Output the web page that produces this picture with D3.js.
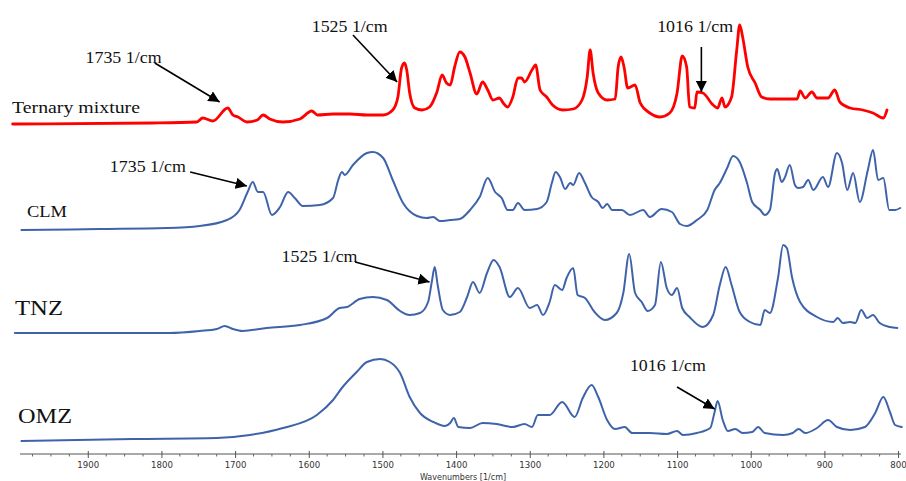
<!DOCTYPE html>
<html>
<head>
<meta charset="utf-8">
<script src="https://cdn.jsdelivr.net/npm/d3@7"></script>
<style>
  html, body { margin: 0; padding: 0; background: #fff; }
  svg { display: block; }
</style>
</head>
<body>
<svg id="chart" width="906" height="481"></svg>
<script>
// ---------------- DATA ----------------
const tickLabels = [1900, 1800, 1700, 1600, 1500, 1400, 1300, 1200, 1100, 1000, 900, 800];
const axisTitle = "Wavenumbers [1/cm]";
const seriesNames = ["Ternary mixture", "CLM", "TNZ", "OMZ"];
const seriesOffsets = [3.17, 2.11, 1.08, 0];

const ternaryWn = [2002,1812,1752,1744,1730,1710,1703,1696,1684,1670,1662,1653,1635,1612,1596,1588,1567,1544,1521,1499,1486,1479,1474,1470,1467,1463,1456,1446,1436,1426,1419,1413,1408,1402,1395,1388,1381,1372,1364,1357,1350,1341,1336,1330,1323,1316,1311,1307,1297,1292,1286,1277,1269,1255,1241,1229,1222,1218,1214,1207,1195,1184,1180,1176,1172,1167,1157,1150,1137,1123,1110,1100,1093,1087,1083,1076,1073,1065,1051,1045,1039,1035,1026,1019,1015,1011,1004,994,985,974,956,937,933,926,917,910,895,886,879,865,848,834,820,815];
const ternaryAbs = [0.00,0.01,0.02,0.06,0.03,0.16,0.09,0.07,0.02,0.04,0.09,0.05,0.02,0.05,0.13,0.09,0.10,0.10,0.09,0.09,0.14,0.27,0.56,0.61,0.54,0.31,0.16,0.14,0.17,0.32,0.49,0.41,0.39,0.57,0.72,0.67,0.51,0.30,0.42,0.34,0.24,0.26,0.21,0.17,0.27,0.46,0.46,0.42,0.54,0.59,0.34,0.27,0.19,0.14,0.15,0.24,0.47,0.74,0.51,0.31,0.24,0.25,0.57,0.67,0.57,0.36,0.39,0.21,0.11,0.07,0.11,0.31,0.68,0.57,0.17,0.16,0.32,0.31,0.19,0.16,0.26,0.17,0.27,0.74,0.99,0.87,0.57,0.41,0.27,0.25,0.25,0.25,0.33,0.26,0.32,0.26,0.26,0.34,0.22,0.16,0.14,0.11,0.06,0.14];

const clmWn = [1990,1884,1793,1748,1711,1694,1683,1676,1669,1662,1650,1639,1628,1619,1608,1585,1567,1560,1555,1551,1540,1521,1513,1499,1486,1472,1453,1440,1431,1422,1408,1395,1381,1368,1357,1347,1338,1330,1323,1316,1307,1290,1277,1270,1265,1259,1252,1245,1241,1233,1225,1216,1207,1201,1195,1188,1175,1164,1146,1137,1121,1107,1096,1087,1073,1059,1049,1042,1032,1024,1015,1005,998,987,981,974,967,964,958,954,947,940,936,929,922,915,902,895,883,876,869,861,852,841,834,827,820,812,804,797];
const clmAbs = [0.00,0.01,0.02,0.04,0.10,0.20,0.38,0.48,0.38,0.38,0.15,0.23,0.38,0.32,0.24,0.25,0.32,0.50,0.58,0.55,0.65,0.77,0.78,0.72,0.50,0.27,0.14,0.12,0.13,0.09,0.10,0.11,0.20,0.33,0.52,0.38,0.32,0.20,0.20,0.27,0.20,0.21,0.28,0.47,0.58,0.53,0.41,0.47,0.45,0.57,0.47,0.33,0.28,0.22,0.26,0.20,0.20,0.15,0.20,0.13,0.21,0.18,0.06,0.04,0.10,0.20,0.40,0.47,0.62,0.74,0.68,0.47,0.28,0.20,0.15,0.20,0.57,0.61,0.48,0.52,0.65,0.45,0.42,0.43,0.50,0.40,0.53,0.43,0.77,0.67,0.40,0.57,0.28,0.60,0.80,0.50,0.52,0.20,0.20,0.22];

const tnzWn = [1999,1789,1748,1725,1714,1703,1690,1657,1612,1575,1558,1548,1531,1513,1494,1476,1463,1449,1438,1433,1429,1425,1418,1408,1395,1385,1377,1368,1358,1349,1341,1327,1316,1300,1290,1282,1273,1266,1256,1250,1241,1235,1225,1212,1198,1182,1173,1165,1157,1148,1140,1130,1122,1114,1107,1100,1093,1083,1065,1051,1042,1034,1026,1015,1001,987,981,974,963,956,951,944,933,910,888,882,875,865,858,850,842,834,825,811,801];
const tnzAbs = [0.00,0.00,0.02,0.04,0.07,0.04,0.02,0.05,0.08,0.15,0.25,0.26,0.34,0.36,0.33,0.22,0.18,0.20,0.31,0.51,0.66,0.48,0.23,0.18,0.21,0.36,0.51,0.40,0.60,0.73,0.66,0.36,0.45,0.25,0.28,0.18,0.31,0.48,0.43,0.55,0.65,0.38,0.35,0.21,0.13,0.20,0.40,0.79,0.40,0.31,0.22,0.28,0.71,0.45,0.38,0.45,0.25,0.16,0.06,0.18,0.48,0.66,0.48,0.21,0.11,0.08,0.23,0.20,0.55,0.88,0.85,0.56,0.31,0.16,0.11,0.15,0.10,0.11,0.10,0.23,0.15,0.18,0.10,0.06,0.05];

const omzWn = [1990,1839,1725,1680,1635,1589,1567,1554,1535,1521,1503,1490,1476,1463,1449,1431,1415,1408,1403,1397,1381,1364,1345,1323,1307,1297,1289,1273,1256,1239,1228,1216,1207,1195,1184,1171,1161,1137,1114,1100,1092,1073,1055,1049,1045,1038,1031,1021,1011,998,990,981,956,943,935,926,910,895,883,865,845,831,820,811,804,795];
const omzAbs = [0.00,0.02,0.03,0.06,0.13,0.26,0.41,0.54,0.69,0.79,0.82,0.79,0.68,0.44,0.28,0.19,0.15,0.18,0.23,0.14,0.13,0.18,0.17,0.14,0.17,0.14,0.26,0.26,0.39,0.24,0.43,0.56,0.44,0.21,0.12,0.14,0.08,0.08,0.07,0.10,0.06,0.08,0.13,0.29,0.40,0.21,0.10,0.12,0.08,0.09,0.14,0.08,0.06,0.08,0.12,0.08,0.13,0.21,0.14,0.11,0.14,0.28,0.44,0.29,0.16,0.14];

// annotations: label, text start (wavenumber, level), arrow tail, arrow head
const annLabels = ["1735 1/cm", "1525 1/cm", "1016 1/cm", "1735 1/cm", "1525 1/cm", "1016 1/cm"];
const annTextWn = [1903, 1596, 1127, 1870, 1637, 1164];
const annTextLv = [3.78, 4.09, 4.09, 2.69, 1.79, 0.70];
const annTailWn = [1809, 1540, 1067, 1761, 1537, 1100];
const annTailLv = [3.78, 4.06, 3.94, 2.69, 1.79, 0.54];
const annHeadWn = [1721, 1480, 1067, 1684, 1436, 1049];
const annHeadLv = [3.39, 3.59, 3.49, 2.55, 1.59, 0.32];

// ---------------- DRAW ----------------
const svg = d3.select("#chart");
const x = d3.scaleLinear().domain([1992, 796]).range([20, 901]);
const y = d3.scaleLinear().domain([0, 4.41]).range([441, 0]);

const series = [
  { wn: ternaryWn, ab: ternaryAbs, color: "#ff0000", width: 2.8 },
  { wn: clmWn, ab: clmAbs, color: "#3f63aa", width: 2 },
  { wn: tnzWn, ab: tnzAbs, color: "#3f63aa", width: 2 },
  { wn: omzWn, ab: omzAbs, color: "#3f63aa", width: 2 }
];

const line = d3.line().curve(d3.curveMonotoneX);
series.forEach((s, i) => {
  const pts = s.wn.map((w, j) => [x(w), y(seriesOffsets[i] + s.ab[j])]);
  svg.append("path")
    .attr("d", line(pts))
    .attr("fill", "none")
    .attr("stroke", s.color)
    .attr("stroke-width", s.width)
    .attr("stroke-linejoin", "round")
    .attr("stroke-linecap", "round");
});

// series labels
const labelPos = [
  { x: 12, y: 113, size: 17, len: 128 },
  { x: 27, y: 217, size: 17, len: 40 },
  { x: 15, y: 315, size: 22, len: 48 },
  { x: 18, y: 423, size: 22, len: 54 }
];
seriesNames.forEach((n, i) => {
  svg.append("text")
    .attr("x", labelPos[i].x).attr("y", labelPos[i].y)
    .attr("font-family", "Liberation Serif, Times New Roman, serif")
    .attr("font-size", labelPos[i].size)
    .attr("textLength", labelPos[i].len)
    .attr("lengthAdjust", "spacingAndGlyphs")
    .attr("fill", "#111")
    .text(n);
});

// arrow marker
svg.append("defs").append("marker")
  .attr("id", "ah")
  .attr("viewBox", "0 0 10 10")
  .attr("refX", 10).attr("refY", 5)
  .attr("markerWidth", 7).attr("markerHeight", 7)
  .attr("markerUnits", "strokeWidth")
  .attr("orient", "auto")
  .append("path").attr("d", "M0,0 L10,5 L0,10 Z").attr("fill", "#000");

annLabels.forEach((t, i) => {
  svg.append("text")
    .attr("x", x(annTextWn[i])).attr("y", y(annTextLv[i]))
    .attr("font-family", "Liberation Serif, Times New Roman, serif")
    .attr("font-size", 16)
    .attr("textLength", 76)
    .attr("lengthAdjust", "spacingAndGlyphs")
    .attr("fill", "#111")
    .text(t);
  svg.append("line")
    .attr("x1", x(annTailWn[i])).attr("y1", y(annTailLv[i]))
    .attr("x2", x(annHeadWn[i])).attr("y2", y(annHeadLv[i]))
    .attr("stroke", "#000").attr("stroke-width", 1.6)
    .attr("marker-end", "url(#ah)");
});

// x axis
const axisY = 454;
const gAxis = svg.append("g").attr("transform", `translate(0,${axisY})`);
gAxis.append("line")
  .attr("x1", x(1992)).attr("x2", x(796))
  .attr("y1", 0).attr("y2", 0)
  .attr("stroke", "#555").attr("stroke-width", 1);

const minorVals = d3.range(1975, 799, -25).filter(v => v % 100 !== 0);
gAxis.selectAll(".minor").data(minorVals).enter().append("line")
  .attr("x1", d => x(d)).attr("x2", d => x(d))
  .attr("y1", 0).attr("y2", 2.5)
  .attr("stroke", "#666").attr("stroke-width", 1);

const axis = d3.axisBottom(x).tickValues(tickLabels).tickSize(4).tickPadding(4).tickFormat(d3.format("d"));
const gMajor = svg.append("g").attr("transform", `translate(0,${axisY})`).call(axis);
gMajor.select(".domain").remove();
gMajor.selectAll(".tick line").attr("y1", -3).attr("stroke", "#555");
gMajor.selectAll(".tick text")
  .attr("font-family", "DejaVu Sans, Verdana, sans-serif")
  .attr("font-size", 8.6)
  .attr("fill", "#333");

svg.append("text")
  .attr("x", 463).attr("y", 479.5)
  .attr("text-anchor", "middle")
  .attr("font-family", "DejaVu Sans, Verdana, sans-serif")
  .attr("font-size", 8)
  .attr("fill", "#333")
  .text(axisTitle);
</script>
</body>
</html>
